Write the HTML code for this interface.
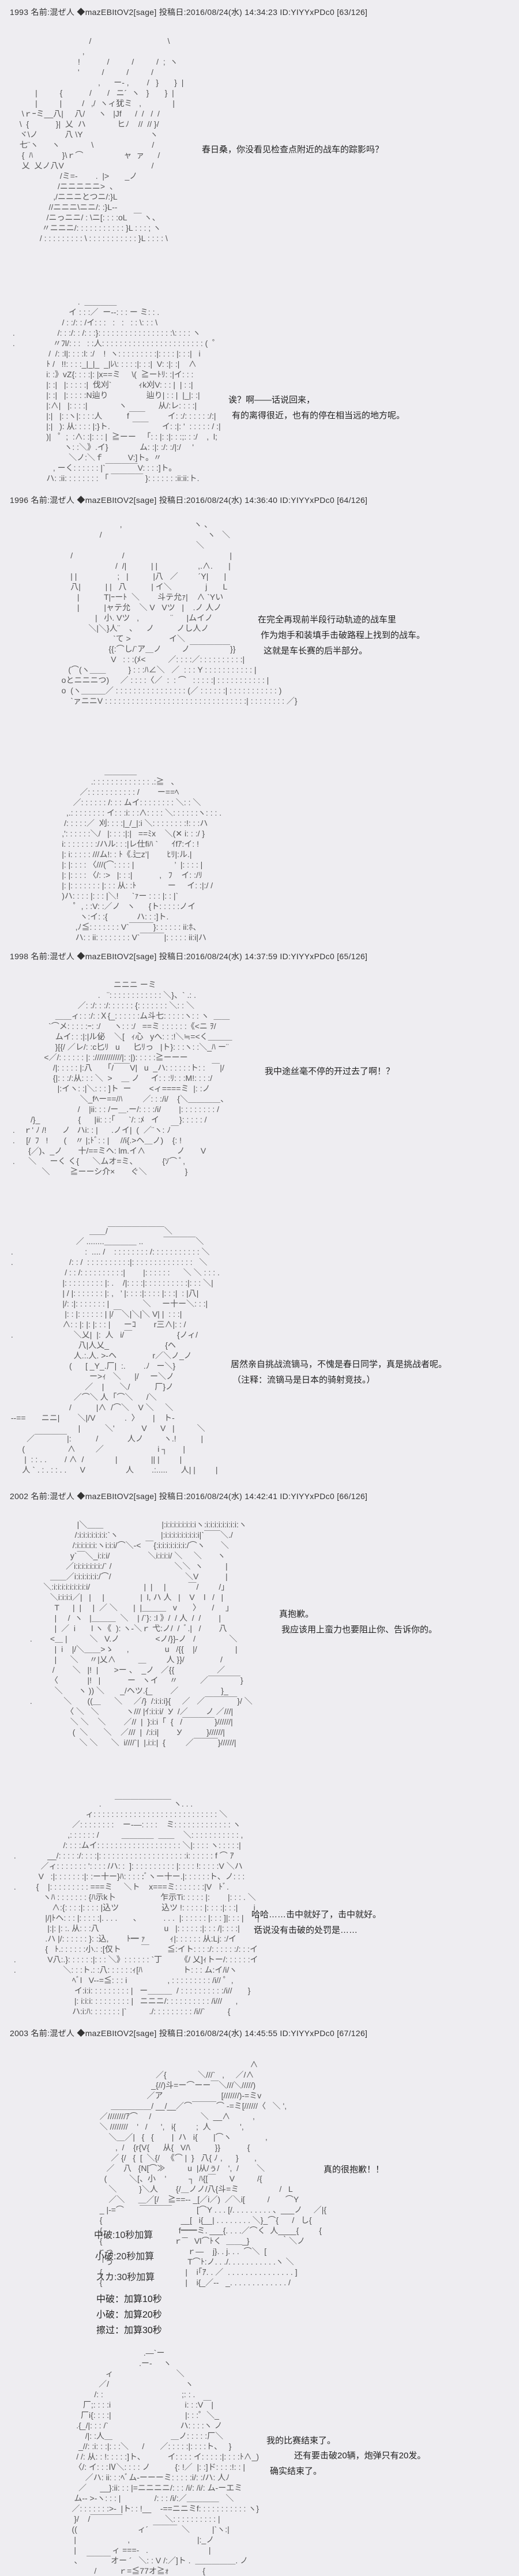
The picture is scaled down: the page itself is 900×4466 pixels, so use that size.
<!DOCTYPE html>
<html><head><meta charset="utf-8"><style>
html,body{margin:0;padding:0}
body{width:900px;height:4456px;background:#eeedf1;position:relative;overflow:hidden;font-family:"Liberation Sans","Noto Sans CJK JP",sans-serif;color:#222}
.h{position:absolute;left:17px;font-size:14px;white-space:nowrap;color:#333;letter-spacing:0.3px}
.t{position:absolute;font-size:15px;white-space:nowrap;color:#222;font-family:"Liberation Sans","Noto Sans CJK SC",sans-serif}
.aa{position:absolute;margin:0;font-family:"Liberation Sans","Noto Sans CJK JP",sans-serif;font-size:14px;line-height:18px;white-space:pre;color:#555}
.l{position:absolute;font-size:16px;white-space:nowrap;color:#333;font-family:"Liberation Sans","Noto Sans CJK JP",sans-serif}
.b{position:absolute;font-size:16px;white-space:nowrap;color:#222;font-family:"Liberation Sans","Noto Sans CJK SC",sans-serif}
</style></head><body>

<div class="h" style="top:11px">1993 名前:混ぜ人 ◆mazEBItOV2[sage] 投稿日:2016/08/24(水) 14:34:23 ID:YIYYxPDc0 [63/126]</div>
<pre class="aa" style="left:30px;top:62px">                                /                                  \
                             ,
                           !            /          /          /  ;  ヽ
                           '          /          /          /
                                    ,      ー- ,        /   }       }  |
        |          {            /       /   ニ´  ヽ   }       }  |
        |          |         /   ,/  ヽィ犹ミ   ,              |
  \ｒｰミ__八|     八/      ヽ   |Jf      /  /   /  /
 \  {            }|  乂  ハ              ヒﾉ    //  // }/
 ヾ\ノ            八 \Y                              ヽ
 七¨ヽ      ヽ              \                          /
  {  ﾊ             }\ｒ⌒                  ャ  ァ      /
  乂  乂ノ八V                                       /
                   /ミ=-        .  |>       _ノ
                  /ニニニニニ>  、
                ,/ニニニとつニ/:}L
              //ニニニ\ニニ/: :}L--
             /ニっニニ/ : \ニ[: : : :oL   ￣ ヽ、
           〃ニニニ/: : : : : : : : : : : }L : : : ; ヽ
          / : : : : : : : : : \ : : : : : : : : : : : }L : : : : \</pre>

<div class="t" style="left:350px;top:248px">春日桑，你没看见检查点附近的战车的踪影吗？</div>

<pre class="aa" style="left:18px;top:514px">                              .  ＿＿＿＿
                          イ : : :／  ー‐‐: : : ー ミ: : .
                       / : :/: : /イ: : :   :   :   : : \: : : \
 .                   /: : :/: : /: : :}: : : : : : : : : : : : : : : : :\: : : : ヽ
 .                 〃ﾌl/: : :   : :人: : : : : : : : : : : : : : : : : : : : : : : (  ゜
                 /  /: :l|: : : :l: :/    !  ヽ: : : : : : : : :|: : : : |: : :|   i
                ﾄ /   !!: : : :_|_|_  _|ﾚ\: : : : :|: : :|  V: :|: :|    ∧
                i: :》vZ{: : : :|: |x==ミ     \(  ≧ーﾄﾘ: :|イ: : :
                |: :|   |: : : : :|  伐刈`            ｨk刈V: : : |  | : :|
                |: :|   |: : : : :N辿り                 辿り| : : |  |_|: :|
                |:∧|   |: : : :|              ヽ              从/:レ: : : :|
                |:|   |: :ヽ|: : : :人           f￣￣          イ: :/: : : : : :/:|
                |:|   ): 从: : : : |:}ト.          ￣￣      イ: :|: '  : : : : : / :|
                )|   ゜;  :∧: :|: : : |  ≧ーー   「: : |: :|: : :;: : :/    ,  l;
                        ヽ: :＼》.イ}              ム: :|: :/: :/|:/     '
                          ＼ノ:＼ｆ           V:]ト。〃
                   , ーく: : : : : : |`￣￣￣￣V: : : :]ト。
                ハ: :ii: : : : : : : : 「 ￣￣￣￣ }: : : : : : :ii:ii:ト.</pre>

<div class="t" style="left:396px;top:682px">诶？啊——话说回来，</div>
<div class="t" style="left:402px;top:709px">有的离得很近，也有的停在相当远的地方呢。</div>

<div class="h" style="top:857px">1996 名前:混ぜ人 ◆mazEBItOV2[sage] 投稿日:2016/08/24(水) 14:36:40 ID:YIYYxPDc0 [64/126]</div>
<pre class="aa" style="left:95px;top:900px">                             ,                                ヽ 、
                    /                                               ヽ   ＼
                                                               ＼
       /                      /                                               |
                           /  /|           | |                  ,.∧.       |
       | |                  ;   |           |八   ／         ´Y|       |
       八|           | |   八           | イ＼               j       L
          |           T|ｰーﾄ  ＼        斗テ允ｧ|    ∧ `Yい
          |           |ャテ允    ＼ V   Vツ   |    .ノ 人ノ
                  |   小. Vツ   ,              ¨      |ムイノ
               ＼|＼}人¨    、    ノ          ノし人ノ
                          `て >                 イ＼
                        {{:⌒し/`ア＿ノ         ノ￣￣￣￣￣}}
                         V   : : :(ﾒ<          ／: : : :／: : : : : : : : : :|
      (⌒(ヽ＿＿          } : : :ﾊ∠＼   ／  : : : Y : : : : : : : : : : : |
   oとニニニつ)     ／ : : : :〈／  :  : ⌒   : : : : :| : : : : : : : : : : : |
   o  (ヽ＿＿＿／ : : : : : : : : : : : : : : : : (／ : : : : : :| : : : : : : : : : : : )
       `ァニニV : : : : : : : : : : : : : : : : : : : : : : : : : : : : : : : :| : : : : : : : : ／}</pre>

<div class="t" style="left:447px;top:1063px">在完全再现前半段行动轨迹的战车里</div>
<div class="t" style="left:452px;top:1090px">作为炮手和装填手击破路程上找到的战车。</div>
<div class="t" style="left:457px;top:1117px">这就是车长赛的后半部分。</div>

<pre class="aa" style="left:80px;top:1328px">                          ＿＿＿＿
                    .: : : : : : : : : : : : : .:≧   、
               ／: : : : : : : : : : : /        ー==ﾍ
            ／: : : : : : /: : : ムイ: : : : : : : : ＼: : ＼
         ,.: : : : : : : : イ: : :i: : :∧: : : : ＼: : : : : :ヽ: : : .
        /: : : : :／  刈: : : :|_/_|:i ＼: : : : : : : :!: : :ハ
       ,': : : : : :＼/   |: : : :|:|   ==ﾐx    ＼(✕ i: : :/ }
       i: : : : : : : :/ハル: : :|レ仕fiﾊ `      ｲfｱ:イ: !
       |: i: : : : : ///ム!: : ﾄ《.辷z’|        ﾋﾘ|:ル.|
       |: |: : : : 〈///(⌒: : : : |                  ’  |: : : : |
       |: |: : : : 〈/: :>   |: : :|            ,   ﾌ    イ: :/ﾘ
       |: |: : : : : : : |: : : 从: :ﾄ              ー     イ: :|:/ /
       )ハ: : : : |: : : |＼!      `ｧー : : : |: : |`
            ゜, : :V: :／ノ   ヽ      {ト: : : : :ノイ
               ヽ:イ: :{             ハ: : :]ト.
             ,ﾉ≦: : : : : : : V`￣￣￣}: : : : : : ii:ﾎ、
             ハ: : ii: : : : : : : : V`￣￣￣|: : : : : ii:i|ハ</pre>

<div class="h" style="top:1648px">1998 名前:混ぜ人 ◆mazEBItOV2[sage] 投稿日:2016/08/24(水) 14:37:59 ID:YIYYxPDc0 [65/126]</div>
<pre class="aa" style="left:18px;top:1698px">                                              ニニニ ーミ
                                       .   ¨: : : : : : : : : : : : ＼}、` .: .
                              ／: :/: : :/: : : : : : {: : : : : : : ＼: : ＼
                    ＿＿ィ: : :/: :Ｘ{_: : : : : :ム斗七: : : : :ヽ: : ヽ  ＿＿
                 `⌒メ: : : : :ｰ: :/      ヽ: : :/   ==ミ : : : : : :《<ニ ｦ/
                    ムイ: : :|:|ル佖    ＼[   ｨ心   yへ: : :!＼≒=<く＿＿＿
                    }[{/ ／レ/: :c匕ﾘ   u      匕ﾘっ   |ト}: : :ヽ: :＼_ﾊ ー¨
               <／/: : : : : : |: :////////////|: :|): : : : :≧ーーー
                   /|: : : : : |:八     「/￣￣V|   u  _ハ: : : : : :ト: :   ￣|/
                   {|: : :/:从: : : ＼  >    ＿ ノ     イ: : :ﾘ: : :M!: : : :/
                     |:イヽ: :|＼: : : ]ト  ー        <ィ====ミ  |: :ノ
                               ＼_fﾍー==/ﾊ         ／: : :/i/    {＼＿＿＿＿、
                              /    |ii: : : /ー＿.ー/: : : :/i/        |: : : : : : : : /
         /}_                 {      |ii: : :｢      `/: :ﾒ   イ         }: : : : : /
 .    ｒ' ﾉ /!       ノ   ハi: : |      .ノイ|  (  ／¨ヽ: ﾉ￣
 .     [/  ﾌ   !       (    〃 |;ﾄﾞ: : |     //i{.>ヘ＿ノ)    {: !
        {／)、_ノ       十/==ミヘ: lm.イ∧              ノ       V
 .      ＼      ーく く{      ＼ムオ=ミ、           {ｿ⌒ ﾟ,
              ＼         ≧ーーシ介×       ぐ＼                 }</pre>

<div class="t" style="left:459px;top:1846px">我中途丝毫不停的开过去了啊！？</div>

<pre class="aa" style="left:15px;top:2125px">                                    ＿＿/￣￣￣￣￣￣￣＼
                              ／ ........＿＿＿＿ ..         ￣￣￣￣＼
 .                                :  .... /    : : : : : : : : /: : : : : : : : : : : ＼
 .                         /: : /  : : : : : : : : : :|: : : : : : : : : : : : : :   ＼
                         / : : /: : : : : : : : : :|        |: : : : : :      ＼ ＼ : : : .
                        |: : : : : : : : : |: .    /|: : : :|: : : : : : : : : :|: : : ＼|
                        | / |: : : : : : : |: ,   ’ |: : : :|: : : : |: : :|  : |八|
                        |/: :|: : : : : : : |               ＼     ー十ー＼: : :|
                         |: : |: : : : : : | |/￣＼|＼|＼ V| |  : : :|
                        ∧: : |: |: |: : : |      ーｺ        r三∧|: : /
 .                           ＼乂|  |:  人   i/￣                    {ノィ/
                               八|人乂_                         {ヘ
                             人.:.人. >-ヘ                r／＼ノ_ノ
                           (      [ _Y_.厂|  :.        .ﾉ   ー＼}
                                    ー>ｨ   ＼      |/     ー＼ノ
                                  ／    |       ＼/           厂}ノ
                             ／⌒＼ 人  ｢⌒＼      /＼
                           /           |∧  /⌒＼    V ＼     ＼
 --==       ニニ|        ＼|/V             .  〉      |    ト-
                               |           ＼'            V      V   |          ＼
        ／￣￣￣￣|:           /             人ノ         ヽ.!           |
      (                   ∧         ／                        i ┐       |
       |  : : . .        / ∧  /              |               || |         |
      人 ` . : . : : . .      V                  人        .:.....      人| |         |</pre>

<div class="t" style="left:400px;top:2354px">居然亲自挑战流镝马，不愧是春日同学，真是挑战者呢。</div>
<div class="t" style="left:403px;top:2381px">（注释：流镝马是日本的骑射竞技。）</div>

<div class="h" style="top:2584px">2002 名前:混ぜ人 ◆mazEBItOV2[sage] 投稿日:2016/08/24(水) 14:42:41 ID:YIYYxPDc0 [66/126]</div>
<pre class="aa" style="left:48px;top:2634px">                      |＼＿＿                          |:i:i:i:i:i:i:i:iヽ:i:i:i:i:i:i:i:i:ヽ
                     /:i:i:i:i:i:i:i:`ヽ                   |:i:i:i:i:i:i:i:i:i|`￣￣＼./
                    /:i:i:i:i:i:ヽi:i:i/⌒＼-<  ￣{:i:i:i:i:i:i:i:/⌒ヽ       ＼
                   y`￣＼_i:i:i/                 ＼i:i:i:i/ ＼     ＼       ヽ
                 ／i:i:i:i:i:i:i:/` /                            ＼＼  ヽ          |
          ＿＿／i:i:i:i:i:i:/⌒/                                 ＼V            |
       ＼:i:i:i:i:i:i:i:i:i/                        |  |     |          ￣/         /」
          ＼i:i:i:i／|   |     |                |  l, ハ 人   |    V    l   /   |
            T      |  |     |  ／ ＼       |  |＿＿＿   v       〉     /     」
            |     /  ヽ   |＿＿＿  ＼    | /`}: :l 》/  / 人  /  /        |
            |  ／  i       l ヽ《  ): ヽ-＼ｒ 弋:ノ/  /  ﾞ.|   /        八
 .        <＿ |          ＼   V.ノ                <ノ/}}-ノ   /               ＼
            |  i    |/＼＿＿>ゝ      ,                u   /{{    |/                 |
            |      ＼     〃|乂∧          ＿         人 }}/                /
           /        ＼   |!  |       >ー 、  _ノ   ／{{                   ／
          〈             |!   |            ー   ヽイ     〃          ／￣￣￣￣}
            ＼       ヽ )) ＼       _/ヘツ.{_        ／                   }_
 .              ＼       ((＿      ＼     ／/}  /:i:i:i}{     ／   ／￣￣￣￣}/ ＼
                 〈 ＼   ＼            ヽ/// |ｲ:i:i:i/  У  /／        ノ ／///|
                   ＼ ＼    ＼        ／//  |  }:i:i「  {   /￣￣￣￣}//////|
                    (  ＼       ＼    ／///  |  /:i:i|        У           }//////|
                       ＼ ＼      ＼  i////`|  |.i:i:|  {         ／￣￣￣}//////|</pre>

<div class="t" style="left:484px;top:2787px">真抱歉。</div>
<div class="t" style="left:488px;top:2814px">我应该用上蛮力也要阻止你、告诉你的。</div>

<pre class="aa" style="left:20px;top:3118px">                                       .      ￣￣￣￣￣￣￣ ヽ. . .
                                 ィ: : : : : : : : : : : : : : : : : : : : : : : : : : : : ＼
                           ／: : : : : : : :    ー-—: : : :    ミ: : : : : : : : : : : : : ヽ
                         ,: : : : : : /          ＿＿＿＿  ＿＿    ＼: : : : : : : : : : : ,
                       /: : : :ムイ: : : : : : : : : : : : : : : : : : : ＼|: : : : ヽ: : : : :|
 .              __/: : : : :/: : : :|: : : : : : : : : : : : : : : : : : : :i: : : : : : f ⌒ ｱ
             ／ィ: : : : : : : ': : : : /ハ: :  ]: : : : : : : : : : |: : : : !: : : : :V ＼ハ
            V   :|: : : : : : :|: :ー十ー}ﾊ: : : : :ﾞヽー十ー.|: : : : : :ト、ノ: : :
 .         {    |: : : : : : : : : ===ミ     ＼ト    x===ミ: : : : : : :|V   ﾄﾞ.
              ヽﾊ : : : : : : : {ﾊ示k卜                    乍示Ti: : : : : |:        |: : : . ＼
                  ∧:{: : : :|: : : : |込ツ                   込ツ !: : : : : |: : : :|: : :|       i
               |/|ﾄヘ: : : |: : : : :|. . . .       、          . . .  |: : : : : : |: : : ]|: : : |      |
                |:|: |: :. 从: : :八                             u   |: : : : : :|: : : /|: : : :|       /
               .ハ |/: : : : : : }: :込,        ﾄ━ ｧ           ｨ|: : : : : : 从:Lj: :/イ
               {   ﾄ.: : : : : :小.: :[仅ト         ￣        ≦:イト: : : :/: : : : : :/: : :イ
 .              V八:.}: : : : : :|: : : ＼》: : : : : : `丁        《/ 乂]ｨトー/: : : : : :イ
 .                     ＼: : :ト.: :八: : : : : :ｨ[ﾊ                  ト: : : ム:イ/i/ヽ
                           ﾍﾞl   V-‐=≦: : : i                  , : : : : : : : : : /i// ゜,
                            イ:i:i: : : : : : : : : |   ー＿＿＿  / : : : : : : : : : :/i//       }
                            |: i:i:i: : : : : : : : : |   ニニニ/: : : : : : : : : : /i///      ,
                           ハ:i:ﾊ: : : : : : : |`          ./: : : : : : : : : /i//`          {</pre>

<div class="t" style="left:436px;top:3308px">哈哈……击中就好了，击中就好。</div>
<div class="t" style="left:440px;top:3335px">话说没有击破的处罚是……</div>

<div class="h" style="top:3515px">2003 名前:混ぜ人 ◆mazEBItOV2[sage] 投稿日:2016/08/24(水) 14:45:55 ID:YIYYxPDc0 [67/126]</div>
<pre class="aa" style="left:130px;top:3570px">                                                                              ∧
                                    ／{              ＼///`   ,     ／/∧
                                  _{//)斗=ー⌒ーー￣＼///＼/////)
                                ／ア                          [///////)-=ミv
                ＿＿＿＿＿/ __/__／⌒￣￣￣⌒ -=ミ[//////〈   ＼ ',
           ／////////ｱ⌒     /                      ＼  __∧          ,
           ＼ ////////    '   /      ',   i{         ;  人             ',
               ＼＿／|   {   {        |  ハ   i{       |⌒ヽ               ,
                  ,  /    {r{V{      从{   V/\           }}            {
                ／ {/   {  [  ＼{/   《⌒ |  }   八{ ﾉ ,      }       ,
              ／    八   {N[⌒≫          u  |从/ぅ/    ',  /        ＼
             (          ＼[、小    '          ┐  ﾊ{[￣      V          /{
               ＼          }＼人        {/＿ノノ/八{斗=ミ                  /   L
               ／＼      ＿／[/    ≧==-- _[／i／)  ／＼i[          /       ⌒Y
           _ |-=⌒       ￣￣￣￣           [⌒Y . . . [/. . . . . . . . . 、___ノ     ／|{</pre>
<pre class="aa" style="left:130px;top:3840px">           {                                   __[   i{__| . . . . . . . . ＼}_⌒{      /   し{
           {                                  f━━ミ. ___{. . . .／⌒く  人____{         {
           {                                ｒ‾‾   Vl⌒ﾄく  ＿＿_}              ｀＼ノ
          ｒっ                                 ｒ―    j}. . j. . .  ⌒＼  [
          「う                                 T⌒ﾄ:ノ. . ./. . . . . . . . . . .ヽ ＼
           {                                     |    i｢ｱ. . ／  . . . . . . . . . . . . . . . ]
           {                                     |    i{_／‐‐   _. . . . . . . . . . . . . /</pre>
<div class="l" style="left:163px;top:3861px">中破:10秒加算</div>
<div class="l" style="left:165px;top:3898px">小破:20秒加算</div>
<div class="l" style="left:166px;top:3934px">スカ:30秒加算</div>
<div class="b" style="left:167px;top:3972px">中破：加算10秒</div>
<div class="b" style="left:167px;top:3999px">小破：加算20秒</div>
<div class="b" style="left:167px;top:4026px">擦过：加算30秒</div>

<div class="t" style="left:561px;top:3750px">真的很抱歉！！</div>

<pre class="aa" style="left:105px;top:4070px">                                     .—`ー
                                   .ー-     ヽ
                    ィ                            ＼
                 ／/                                  ヽ
               /: :                                   ;: : .
          厂;: : : :i                                 i: : :V￣|
         厂i{: : : :|                                 |: : :゜＼_
       .{_/|: : : /`                                ハ: : : :ヽ ノ
           /|: :人＿                          ＿ノ: : : : :厂＼
        _//: :i: : :|: : :＼      /       ／: : : : :|: : : :ト、   }
       / /: 从: : !: : : : :]ト、          イ: : : : イ: : : : :|: : : :ﾄ∧_)
      〈/: イ: : :Ⅳ＼: : : : ノ           {: !／  |: :]ド: : : :!: : |
           ／ハ: ii: : :ﾍﾞム-ーーーミ: : : : :i/: :/ハ: 人ﾉ
        ／      __}:ii: : : |=ニニニニ/: : : /i/: /i/: ム-ーエミ
      ム-- >-ヽ: : : |               /: : : /i/:／＿＿＿＿   ＼
     ／: : : : : : :>-  |ト: : !__    -==ニニミf: : : : : : : : : : : ヽ}
      }/    /￣￣￣￣                   ＼: : : : : : : : : : |
     ((                           ィ´  ￣￣￣  ＼          |`ヽ:|
      |                       ,                              |:_ノ
      |                ィ ===-   .                           |
      、  ￣￣￣オー ´   ＼: : V /:／]ト .  ＿＿＿＿＿. ノ
               /          ｒ=≦77オ≧ｫ               {</pre>

<div class="t" style="left:462px;top:4220px">我的比赛结束了。</div>
<div class="t" style="left:510px;top:4246px">还有要击破20辆，炮弹只有20发。</div>
<div class="t" style="left:468px;top:4273px">确实结束了。</div>

</body></html>
